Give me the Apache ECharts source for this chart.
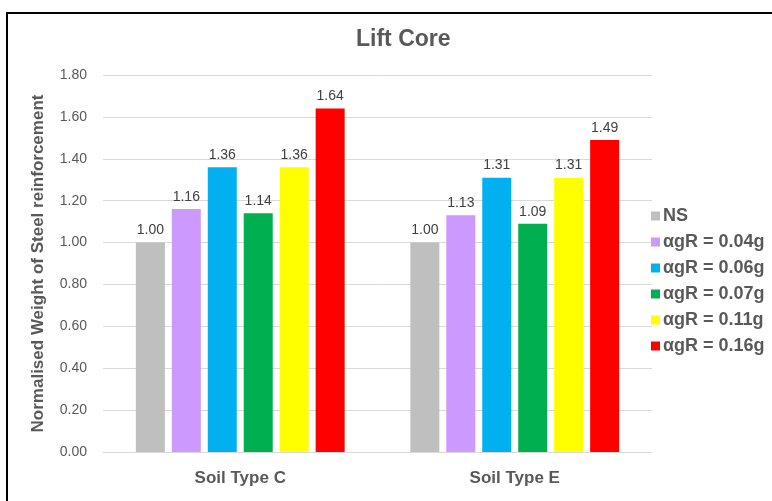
<!DOCTYPE html>
<html>
<head>
<meta charset="utf-8">
<script src="https://cdn.jsdelivr.net/npm/echarts@6/dist/echarts.min.js"></script>
<style>
  html, body { margin: 0; padding: 0; background: #fff; }
  #chart { width: 772px; height: 501px; }
</style>
</head>
<body>
<div id="chart"></div>
<script>
// Soil type groups on the x axis
const categories = ['Soil Type C', 'Soil Type E'];

// Series names and their values per soil type
const seriesNames = ['NS', 'αgR = 0.04g', 'αgR = 0.06g', 'αgR = 0.07g', 'αgR = 0.11g', 'αgR = 0.16g'];
const valuesNS   = [1.00, 1.00];
const values004g = [1.16, 1.13];
const values006g = [1.36, 1.31];
const values007g = [1.14, 1.09];
const values011g = [1.36, 1.31];
const values016g = [1.64, 1.49];

const seriesColors = ['#bfbfbf', '#cc99ff', '#00b0f0', '#00b050', '#ffff00', '#ff0000'];
const allValues = [valuesNS, values004g, values006g, values007g, values011g, values016g];

const FONT = 'Arial, Liberation Sans, sans-serif';

const chart = echarts.init(document.getElementById('chart'));

const series = seriesNames.map((name, i) => ({
  name,
  type: 'bar',
  data: allValues[i],
  barWidth: 29,
  barGap: '24%',
  itemStyle: { color: seriesColors[i] },
  label: {
    show: true,
    position: 'top',
    distance: 5,
    formatter: p => p.value.toFixed(2),
    color: '#404040',
    fontSize: 14,
    fontFamily: FONT
  }
}));

chart.setOption({
  animation: false,
  backgroundColor: '#ffffff',
  graphic: [{
    type: 'rect',
    shape: { x: 7, y: 13, width: 780, height: 500 },
    style: { fill: 'none', stroke: '#000', lineWidth: 2 },
    silent: true
  }],
  title: {
    text: 'Lift Core',
    left: 351,
    top: 23,
    textStyle: {
      fontSize: 23,
      fontWeight: 'bold',
      color: '#595959',
      fontFamily: FONT
    }
  },
  legend: {
    orient: 'vertical',
    left: 646,
    top: 202,
    itemWidth: 9,
    itemHeight: 9,
    itemGap: 8,
    icon: 'rect',
    textStyle: {
      fontSize: 18,
      fontWeight: 'bold',
      color: '#595959',
      fontFamily: FONT,
      padding: [0, 0, 0, -2]
    },
    data: seriesNames
  },
  grid: { left: 103, right: 120, top: 75, bottom: 49 },
  xAxis: {
    type: 'category',
    data: categories,
    axisTick: { show: false },
    axisLine: { lineStyle: { color: '#d9d9d9' } },
    axisLabel: {
      margin: 18,
      fontSize: 17,
      fontWeight: 'bold',
      color: '#595959',
      fontFamily: FONT
    }
  },
  yAxis: {
    type: 'value',
    min: 0,
    max: 1.8,
    interval: 0.2,
    name: 'Normalised Weight of Steel reinforcement',
    nameLocation: 'middle',
    nameGap: 56,
    nameTextStyle: {
      fontSize: 17,
      fontWeight: 'bold',
      color: '#595959',
      fontFamily: FONT
    },
    axisLabel: {
      formatter: v => v.toFixed(2),
      fontSize: 14,
      color: '#595959',
      margin: 16,
      fontFamily: FONT
    },
    splitLine: { lineStyle: { color: '#d9d9d9' } }
  },
  series
});
</script>
</body>
</html>
